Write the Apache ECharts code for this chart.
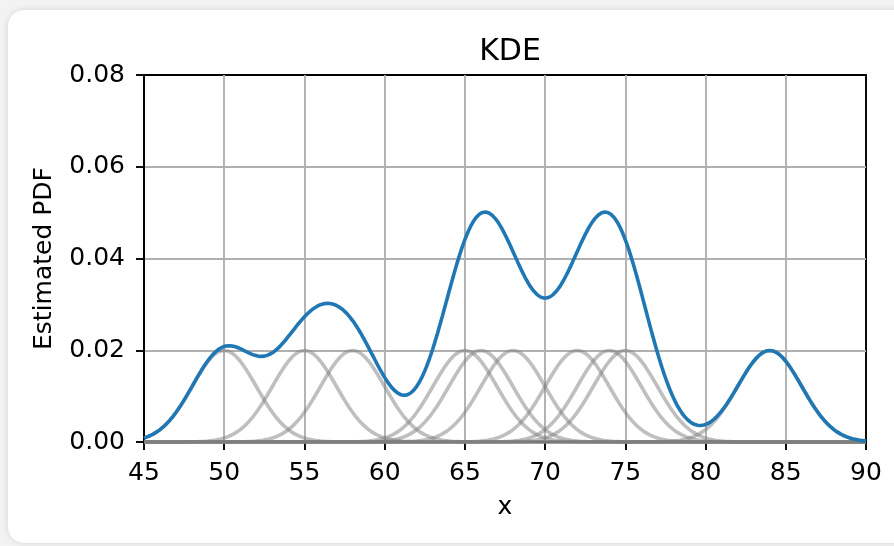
<!DOCTYPE html>
<html><head><meta charset="utf-8">
<script src="https://cdn.jsdelivr.net/npm/echarts@6/dist/echarts.min.js"></script>
<style>
html,body{margin:0;padding:0;background:#f3f3f3;width:894px;height:546px;overflow:hidden}
#card{position:absolute;left:8px;top:10px;width:910px;height:533px;background:#fff;border-radius:16px;box-shadow:0 0 7px rgba(0,0,0,0.13)}
#chart{position:absolute;left:0;top:0;width:894px;height:546px}
</style></head><body><div id="card"></div><div id="chart"></div>
<script>
const samples = [50, 55, 58, 65, 66, 68, 72, 74, 75, 84];
const bandwidth = 2;
const xRange = [45, 90];
const xStep = 5;
const yRange = [0, 0.08];
const yStep = 0.02;
const titleText = 'KDE';
const xName = 'x';
const yName = 'Estimated PDF';

const n = samples.length;
const norm = 1 / (n * bandwidth * Math.sqrt(2 * Math.PI));
const grid = [];
for (let i = 0; i <= 450; i++) grid.push(xRange[0] + i * 0.1);
function kernel(x, c) { const u = (x - c) / bandwidth; return norm * Math.exp(-0.5 * u * u); }

const series = [];
samples.forEach(c => {
  series.push({
    type: 'line', showSymbol: false, silent: true, z: 2,
    data: grid.map(x => [x, kernel(x, c)]),
    lineStyle: { color: 'rgba(128,128,128,0.5)', width: 3.6 }
  });
});
series.push({
  type: 'line', showSymbol: false, silent: true, z: 3,
  data: grid.map(x => [x, samples.reduce((s, c) => s + kernel(x, c), 0)]),
  lineStyle: { color: '#1f77b4', width: 3.6 }
});

const font = { fontFamily: 'DejaVu Sans', color: '#000' };
const chart = echarts.init(document.getElementById('chart'), null, { renderer: 'canvas' });
chart.setOption({
  animation: false,
  backgroundColor: 'transparent',
  title: { text: titleText, left: 505, top: 32, textAlign: 'center',
    textStyle: Object.assign({ fontSize: 30, fontWeight: 'normal' }, font) },
  grid: { left: 144, top: 75, width: 722, height: 367, show: true, borderColor: '#000', borderWidth: 1.9, backgroundColor: 'transparent' },
  xAxis: {
    type: 'value', min: xRange[0], max: xRange[1], interval: xStep,
    name: xName, nameLocation: 'middle', nameGap: 53,
    nameTextStyle: Object.assign({ fontSize: 25 }, font),
    axisLine: { show: true, lineStyle: { color: '#000', width: 1.9 } },
    axisTick: { show: true, length: 8, lineStyle: { color: '#000', width: 1.9 } },
    axisLabel: Object.assign({ fontSize: 25, margin: 19 }, font),
    splitLine: { show: true, showMinLine: false, showMaxLine: false, lineStyle: { color: '#b0b0b0', width: 1.9 } }
  },
  yAxis: {
    type: 'value', min: yRange[0], max: yRange[1], interval: yStep,
    name: yName, nameLocation: 'middle', nameGap: 87, nameRotate: 90,
    nameTextStyle: Object.assign({ fontSize: 25 }, font),
    axisLine: { show: true, lineStyle: { color: '#000', width: 1.9 } },
    axisTick: { show: true, length: 8, lineStyle: { color: '#000', width: 1.9 } },
    axisLabel: Object.assign({ fontSize: 25, margin: 19, formatter: v => v.toFixed(2) }, font),
    splitLine: { show: true, showMinLine: false, showMaxLine: false, lineStyle: { color: '#b0b0b0', width: 1.9 } }
  },
  series: series
});
</script></body></html>
